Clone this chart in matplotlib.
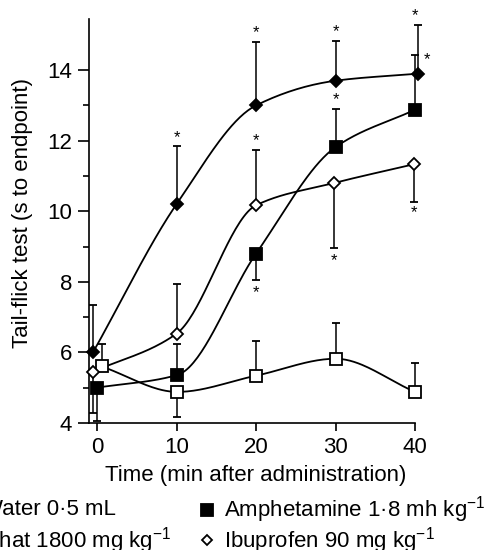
import matplotlib

matplotlib.use("Agg")
import matplotlib.pyplot as plt
import numpy as np

plt.rcParams.update(
    {
        "font.family": ["Liberation Sans", "DejaVu Sans"],
        "mathtext.fontset": "custom",
        "mathtext.rm": "Liberation Sans",
        "mathtext.it": "Liberation Sans",
        "font.size": 16,
    }
)

# values (s to endpoint)
water_x = [0.6, 10.1, 20, 30, 40]
water_y = [5.6, 4.88, 5.34, 5.82, 4.88]
water_err = [6.25, 4.17, 6.33, 6.84, 5.70]

amph_x = [0, 10.1, 20, 30, 40]
amph_y = [5.0, 5.36, 8.8, 11.82, 12.88]
amph_err = [4.05, 6.25, 8.06, 12.9, 14.43]

khat_x = [-0.5, 10, 20, 30, 40.4]
khat_y = [6.0, 10.2, 13.0, 13.7, 13.9]
khat_err = [7.35, 11.84, 14.8, 14.82, 15.28]

ibu_x = [-0.5, 10, 20, 29.8, 39.8]
ibu_y = [5.45, 6.53, 10.17, 10.8, 11.33]
ibu_err = [4.28, 7.95, 11.73, 8.97, 10.25]

# significance stars (x, y)
star_x = [10, 20, 30, 40, 41.5, 20, 20, 30, 29.8, 39.8]
star_y = [12.1, 15.05, 15.1, 15.55, 14.3, 7.7, 12.0, 13.15, 8.6, 9.95]

XTICKS = [0, 10, 20, 30, 40]
YTICKS = [4, 6, 8, 10, 12, 14]
YMINOR = [5, 7, 9, 11, 13]


def pchip(x, y, n=40):
    x = np.asarray(x, float)
    y = np.asarray(y, float)
    h = np.diff(x)
    d = np.diff(y) / h
    m = np.zeros_like(y)
    for k in range(1, len(x) - 1):
        if d[k - 1] * d[k] > 0:
            w1 = 2 * h[k] + h[k - 1]
            w2 = h[k] + 2 * h[k - 1]
            m[k] = (w1 + w2) / (w1 / d[k - 1] + w2 / d[k])
    m[0] = d[0]
    m[-1] = d[-1]
    xs, ys = [], []
    for k in range(len(x) - 1):
        t = np.linspace(0, 1, n)
        h00 = 2 * t**3 - 3 * t**2 + 1
        h10 = t**3 - 2 * t**2 + t
        h01 = -2 * t**3 + 3 * t**2
        h11 = t**3 - t**2
        xs.append(x[k] + t * h[k])
        ys.append(h00 * y[k] + h10 * h[k] * m[k] + h01 * y[k + 1] + h11 * h[k] * m[k + 1])
    return np.concatenate(xs), np.concatenate(ys)


def draw_series(ax, x, y, err, marker, face, size):
    cx, cy = pchip(x, y)
    ax.plot(cx, cy, color="black", lw=1.3, zorder=2)
    y = np.asarray(y)
    err = np.asarray(err)
    lower = np.clip(y - err, 0, None)
    upper = np.clip(err - y, 0, None)
    ax.errorbar(x, y, yerr=[lower, upper], fmt="none", ecolor="black",
                elinewidth=1.1, capsize=3, capthick=1.3, zorder=1, clip_on=False)
    ax.plot(x, y, ls="none", marker=marker, ms=size, mfc=face, mec="black",
            mew=1.3, zorder=3, clip_on=False)


fig = plt.figure(figsize=(4.89, 5.5), dpi=100)
ax = fig.add_axes([0.182, 0.231, 0.667, 0.7345])

draw_series(ax, water_x, water_y, water_err, "s", "white", 8)
draw_series(ax, amph_x, amph_y, amph_err, "s", "black", 9)
draw_series(ax, khat_x, khat_y, khat_err, "D", "black", 6.5)
draw_series(ax, ibu_x, ibu_y, ibu_err, "D", "white", 6)

for sx, sy in zip(star_x, star_y):
    ax.text(sx, sy, "*", ha="center", va="center", fontsize=12, clip_on=False)

ax.set_xlim(-1, 40)
ax.set_ylim(4, 15.45)
ax.set_xticks(XTICKS)
ax.set_yticks(YTICKS)
ax.set_yticks(YMINOR, minor=True)
ax.spines["top"].set_visible(False)
ax.spines["right"].set_visible(False)
for s in ("left", "bottom"):
    ax.spines[s].set_linewidth(1.2)
ax.tick_params(axis="y", which="major", length=8, width=1.2, pad=4, labelsize=16)
ax.tick_params(axis="y", which="minor", length=4.5, width=1.2)
ax.tick_params(axis="x", which="major", length=6, width=1.2, pad=4, labelsize=16)

ax.set_xlabel("Time (min after administration)", fontsize=16)
ax.set_ylabel("Tail-flick test (s to endpoint)", fontsize=16)
ax.yaxis.set_label_coords(-0.172, 0.52)
ax.xaxis.set_label_coords(0.51, -0.105)

# legend, partly running off the left edge as in the original
legend_rows = [
    (-0.036, 0.073, "s", "white", "Water 0·5 mL"),
    (-0.032, 0.018, "D", "black", "Khat 1800 mg kg$^{-1}$"),
    (0.458, 0.073, "s", "black", "Amphetamine 1·8 mh kg$^{-1}$"),
    (0.458, 0.018, "D", "white", "Ibuprofen 90 mg kg$^{-1}$"),
]
for tx, ty, mk, face, label in legend_rows:
    ms = 8 if mk == "s" else 5
    fig.lines.append(
        plt.Line2D([tx - 0.035], [ty], transform=fig.transFigure, ls="none",
                   marker=mk, ms=ms, mfc=face, mec="black", mew=1.3)
    )
    fig.text(tx, ty, label, ha="left", va="center", fontsize=16)

fig.savefig("out.png", dpi=100)
